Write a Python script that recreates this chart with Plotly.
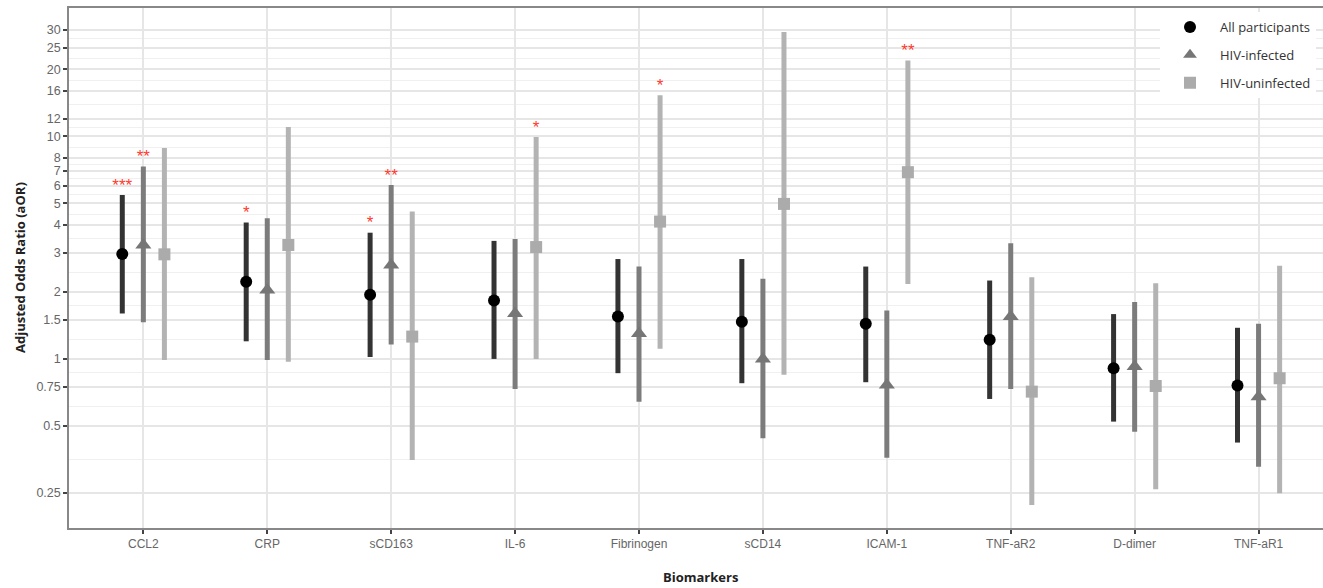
import numpy as np
import plotly.graph_objects as go

categories = ["CCL2", "CRP", "sCD163", "IL-6", "Fibrinogen", "sCD14", "ICAM-1", "TNF-aR2", "D-dimer", "TNF-aR1"]

all_or = [2.96, 2.22, 1.94, 1.83, 1.55, 1.47, 1.44, 1.22, 0.908, 0.759]
all_lo = [1.60, 1.20, 1.02, 1.00, 0.863, 0.778, 0.786, 0.661, 0.523, 0.421]
all_hi = [5.45, 4.10, 3.69, 3.39, 2.81, 2.81, 2.60, 2.25, 1.59, 1.38]
all_sig = ["***", "*", "*", "", "", "", "", "", "", ""]

inf_or = [3.25, 2.04, 2.64, 1.60, 1.30, 1.00, 0.764, 1.55, 0.924, 0.677]
inf_lo = [1.46, 0.99, 1.16, 0.733, 0.643, 0.44, 0.36, 0.733, 0.471, 0.328]
inf_hi = [7.31, 4.29, 6.05, 3.46, 2.60, 2.29, 1.65, 3.31, 1.80, 1.44]
inf_sig = ["**", "", "**", "", "", "", "", "", "", ""]

uninf_or = [2.95, 3.25, 1.26, 3.18, 4.14, 4.97, 6.90, 0.713, 0.756, 0.819]
uninf_lo = [0.99, 0.97, 0.352, 1.00, 1.11, 0.848, 2.17, 0.221, 0.26, 0.249]
uninf_hi = [8.87, 11.0, 4.59, 9.94, 15.3, 29.4, 21.9, 2.33, 2.19, 2.62]
uninf_sig = ["", "", "", "*", "*", "", "**", "", "", ""]

series_names = ["All participants", "HIV-infected", "HIV-uninfected"]

y_ticks = [0.25, 0.5, 0.75, 1, 1.5, 2, 3, 4, 5, 6, 7, 8, 10, 12, 16, 20, 25, 30]
y_ticklabels = ["0.25", "0.5", "0.75", "1", "1.5", "2", "3", "4", "5", "6", "7", "8", "10", "12", "16", "20", "25", "30"]
REF_LINE = 1

series = [
    dict(name=series_names[0], or_=all_or, lo=all_lo, hi=all_hi, sig=all_sig,
         bar="#333333", mcol="#000000", symbol="circle", size=12, dx=-0.17),
    dict(name=series_names[1], or_=inf_or, lo=inf_lo, hi=inf_hi, sig=inf_sig,
         bar="#7c7c7c", mcol="#767676", symbol="triangle-up", size=14, dx=0.0),
    dict(name=series_names[2], or_=uninf_or, lo=uninf_lo, hi=uninf_hi, sig=uninf_sig,
         bar="#b3b3b3", mcol="#ababab", symbol="square", size=12, dx=0.17),
]

fig = go.Figure()
idx = np.arange(len(categories))

for i, s in enumerate(series):
    xs = idx + s["dx"]
    or_ = np.array(s["or_"])
    lo = np.array(s["lo"])
    hi = np.array(s["hi"])
    fig.add_trace(go.Scatter(
        x=xs, y=or_, mode="markers", name=s["name"],
        legendgroup=s["name"],
        marker=dict(symbol=s["symbol"], size=s["size"], color=s["mcol"], line=dict(width=0)),
        error_y=dict(type="data", symmetric=False, array=hi - or_, arrayminus=or_ - lo,
                     color=s["bar"], thickness=5, width=0),
    ))
    fig.add_trace(go.Scatter(
        x=xs, y=hi, mode="text", text=s["sig"], textposition="top center",
        textfont=dict(color="#ff3b2f", size=17, family="Liberation Sans"),
        showlegend=False, hoverinfo="skip", cliponaxis=False,
    ))

# minor gridlines midway (log space) between majors
logs = np.log10(y_ticks)
minor_vals = list(10 ** ((logs[:-1] + logs[1:]) / 2))

fig.add_hline(y=REF_LINE, line=dict(color="#9a9a9a", width=1.3), layer="below")

W, H = 1323, 588
ML, MR, MT, MB = 69, 0, 8, 60

fig.update_layout(
    width=W, height=H,
    margin=dict(l=ML, r=MR, t=MT, b=MB, autoexpand=False),
    paper_bgcolor="white", plot_bgcolor="white",
    font=dict(family="Liberation Sans", color="#666666", size=12),
    showlegend=True,
    legend=dict(x=(1160 - ML) / (W - ML - MR), y=1 - (12 - MT) / (H - MT - MB),
                xanchor="left", yanchor="top",
                bgcolor="white", borderwidth=0,
                font=dict(family="Open Sans", size=13, color="#333333"),
                itemsizing="constant", itemwidth=50, tracegroupgap=8,
                traceorder="grouped"),
    xaxis=dict(
        range=[-0.6, 9.52], tickvals=list(idx), ticktext=categories,
        showgrid=True, gridcolor="#e6e6e6", gridwidth=1.5, zeroline=False,
        ticks="outside", ticklen=4, tickcolor="#444444", tickwidth=1.5,
        showline=True, linecolor="#888888", linewidth=1.5, mirror=True,
        tickfont=dict(size=12, color="#666666"), automargin=False,
    ),
    yaxis=dict(
        type="log", range=[np.log10(0.174), np.log10(37.7)],
        tickvals=y_ticks, ticktext=y_ticklabels,
        showgrid=True, gridcolor="#e6e6e6", gridwidth=1.5, zeroline=False,
        ticks="outside", ticklen=4, tickcolor="#444444", tickwidth=1.5,
        showline=True, linecolor="#888888", linewidth=1.5, mirror=True,
        tickfont=dict(size=12.5, color="#666666"), automargin=False,
        minor=dict(tickvals=minor_vals, showgrid=True, gridcolor="#f0f0f0", gridwidth=1, ticks=""),
    ),
    annotations=[
        dict(text="<b>Biomarkers</b>", xref="paper", yref="paper",
             x=(700 - ML) / (W - ML - MR),
             y=-(577 - (H - MB)) / (H - MT - MB), xanchor="center", yanchor="middle",
             showarrow=False, font=dict(family="Open Sans", size=13, color="#222222")),
        dict(text="<b>Adjusted Odds Ratio (aOR)</b>", xref="paper", yref="paper",
             x=-(ML - 20) / (W - ML - MR), y=0.5, xanchor="center", yanchor="middle",
             textangle=-90, showarrow=False,
             font=dict(family="Open Sans", size=13, color="#222222")),
    ],
)

fig.write_html("out.html", config={"displayModeBar": False},
               post_script="document.body.style.margin='0';document.body.style.overflow='hidden';")
